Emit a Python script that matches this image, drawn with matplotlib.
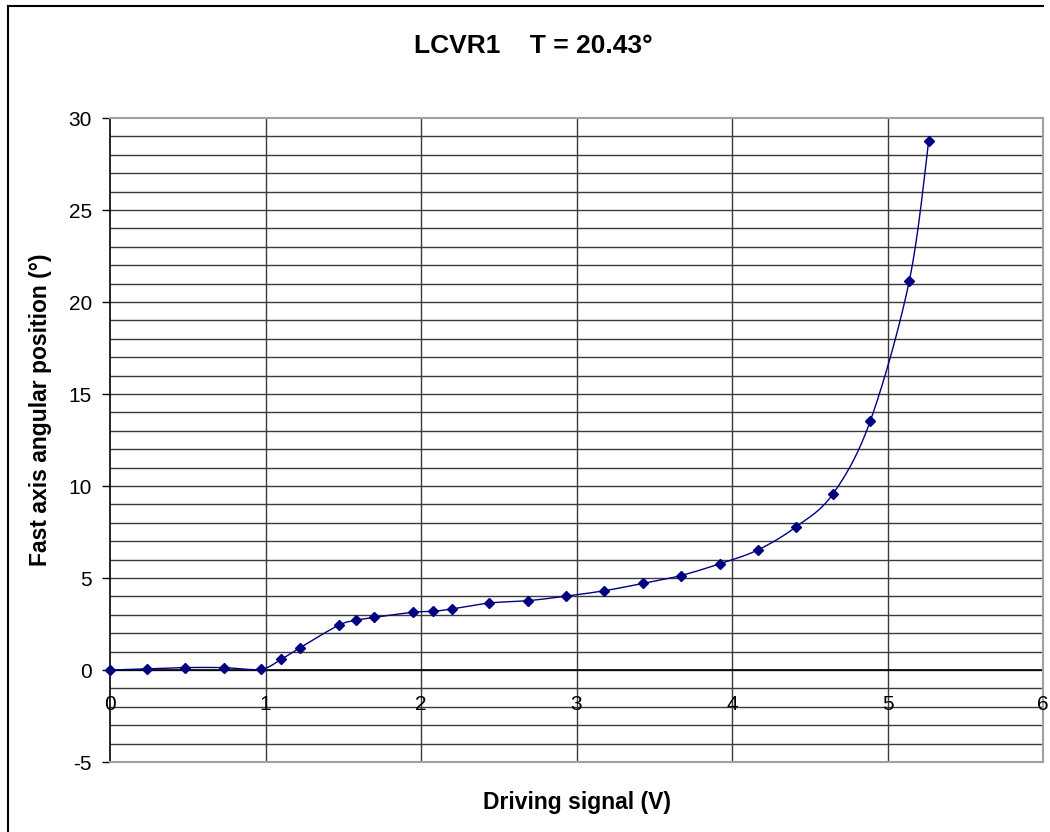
import numpy as np
import matplotlib
matplotlib.use("Agg")
import matplotlib.pyplot as plt
from matplotlib.lines import Line2D

plt.rcParams['font.family'] = ['Liberation Sans', 'DejaVu Sans']

# ---- data ----
voltage = [0, 0.24, 0.485, 0.73, 0.97, 1.10, 1.22, 1.47, 1.585, 1.70, 1.95, 2.08,
           2.20, 2.44, 2.69, 2.93, 3.18, 3.43, 3.67, 3.92, 4.165, 4.41, 4.65,
           4.89, 5.14, 5.265]
angle = [0, 0.06, 0.13, 0.13, 0.04, 0.58, 1.2, 2.43, 2.7, 2.86, 3.14, 3.19,
         3.32, 3.64, 3.77, 4.01, 4.31, 4.71, 5.13, 5.77, 6.52, 7.77, 9.58,
         13.55, 21.14, 28.75]
x_ticks = [0, 1, 2, 3, 4, 5, 6]
y_ticks = [-5, 0, 5, 10, 15, 20, 25, 30]
title = "LCVR1    T = 20.43°"
xlabel = "Driving signal (V)"
ylabel = "Fast axis angular position (°)"

W, H = 1050, 832
fig = plt.figure(figsize=(W / 100, H / 100), dpi=100)
ax = fig.add_axes([110 / W, 1 - 762 / H, (1043 - 110) / W, (762 - 118) / H])

ax.set_xlim(0, 6)
ax.set_ylim(-5, 30)

# gridlines
for yv in range(-4, 30):
    ax.axhline(yv, color='#3a3a3a', lw=1.0, zorder=1)
for xv in x_ticks[1:-1]:
    ax.axvline(xv, color='#3a3a3a', lw=1.0, zorder=1)

for s in ['top', 'right', 'bottom']:
    ax.spines[s].set_color('#a0a0a0')
    ax.spines[s].set_linewidth(1.5)
ax.spines['left'].set_color('black')
ax.spines['left'].set_linewidth(1.2)
ax.axhline(0, color='black', lw=1.2, zorder=2)

# smoothed line (Excel-style Bezier smoothing)
x = np.array(voltage, float)
y = np.array(angle, float)
n = len(x)
xs, ys = [], []
t = np.linspace(0, 1, 30)
for i in range(n - 1):
    p0 = np.array([x[i], y[i]])
    p3 = np.array([x[i + 1], y[i + 1]])
    pm = np.array([x[i - 1], y[i - 1]]) if i > 0 else p0
    pp = np.array([x[i + 2], y[i + 2]]) if i + 2 < n else p3
    p1 = p0 + (p3 - pm) / 6
    p2 = p3 - (pp - p0) / 6
    seg = ((1 - t) ** 3)[:, None] * p0 + (3 * (1 - t) ** 2 * t)[:, None] * p1 \
        + (3 * (1 - t) * t ** 2)[:, None] * p2 + (t ** 3)[:, None] * p3
    xs.extend(seg[:, 0]); ys.extend(seg[:, 1])
ax.plot(xs, ys, color='#000080', lw=1.0, zorder=3, clip_on=False)
ax.plot(x, y, linestyle='none', marker='D', markersize=5.5, color='#000080',
        zorder=4, clip_on=False)

# y ticks
ax.set_yticks(y_ticks)
ax.set_yticklabels([str(v) for v in y_ticks], fontsize=15)
ax.tick_params(axis='y', direction='out', length=6, width=1, color='black', pad=7)
ax.set_xticks([])

# x tick labels placed under the y=0 axis
for xv in x_ticks:
    ax.annotate(str(xv), xy=(xv, 0), xytext=(0, -34), textcoords='offset pixels',
                ha='center', va='center', fontsize=15, zorder=5)

fig.text(533 / W, 1 - 46 / H, title, ha='center', va='center', fontsize=19,
         fontweight='bold')
fig.text(577 / W, 1 - 802 / H, xlabel, ha='center', va='center', fontsize=16.5,
         fontweight='bold')
fig.text(41 / W, 1 - 410 / H, ylabel, ha='center', va='center', fontsize=16.5,
         fontweight='bold', rotation=90)

# chart border
fig.add_artist(Line2D([8 / W, 8 / W], [0, 1 - 6 / H], transform=fig.transFigure,
                      color='black', lw=1.5))
fig.add_artist(Line2D([8 / W, 1043 / W], [1 - 6 / H, 1 - 6 / H],
                      transform=fig.transFigure, color='black', lw=1.5))

fig.savefig('out.png', dpi=100)
